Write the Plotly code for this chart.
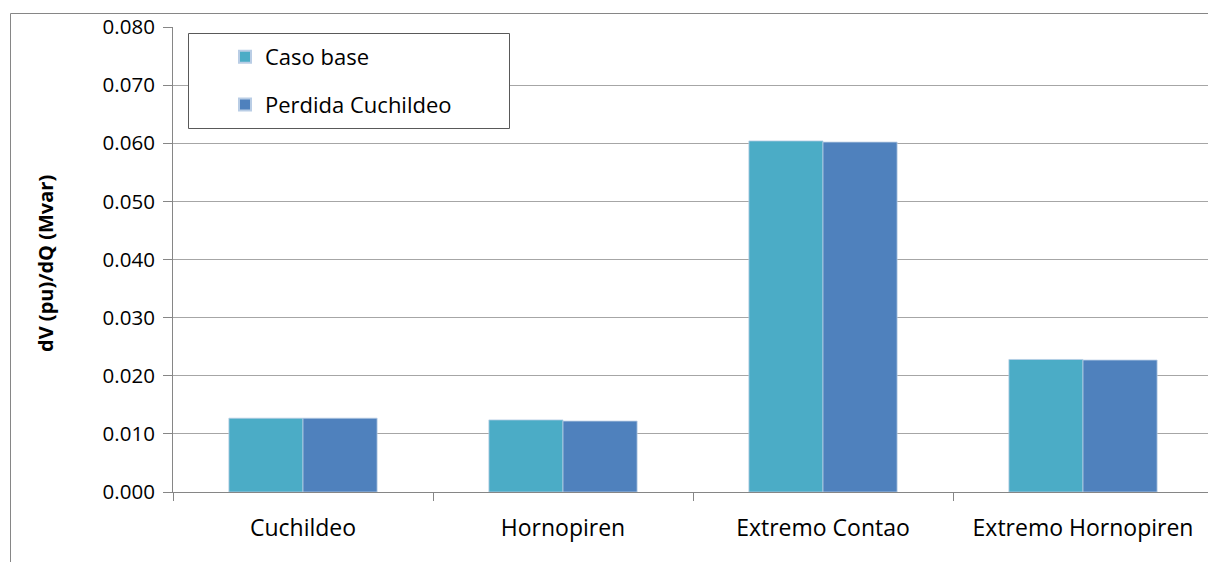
import plotly.graph_objects as go

# Sensitivity dV/dQ per bus, base case vs. loss of Cuchildeo
categories = ["Cuchildeo", "Hornopiren", "Extremo Contao", "Extremo Hornopiren"]
caso_base = [0.0127, 0.0124, 0.0604, 0.0228]
perdida_cuchildeo = [0.0127, 0.0122, 0.0602, 0.0227]
y_ticks = [0.0, 0.01, 0.02, 0.03, 0.04, 0.05, 0.06, 0.07, 0.08]

W, H = 1208, 562
L, R, T, B = 173, 0, 27, 70
pw = W - L - R
ph = H - T - B

FONT = "Open Sans"
AX = "#868686"
GRID = "#A6A6A6"


def px_x(x):
    return (x - L) / pw


def px_y(y):
    return 1 - (y - T) / ph


fig = go.Figure()
fig.add_trace(go.Bar(
    x=categories, y=caso_base, name="Caso base",
    marker=dict(color="#4BACC6", line=dict(color="#B9CDE5", width=0.8)),
    legendgroup="a",
))
fig.add_trace(go.Bar(
    x=categories, y=perdida_cuchildeo, name="Perdida Cuchildeo",
    marker=dict(color="#4F81BD", line=dict(color="#B9CDE5", width=0.8)),
    legendgroup="b",
))

# visible categories span: the last one runs past the right edge
x_hi = -0.5 + pw / 260.0

fig.update_layout(
    width=W, height=H,
    margin=dict(l=L, r=R, t=T, b=B, pad=0),
    paper_bgcolor="white", plot_bgcolor="white",
    font=dict(family=FONT, size=20, color="#000000"),
    barmode="group", bargap=0.43, bargroupgap=0,
    showlegend=True,
    legend=dict(
        x=px_x(225), y=px_y(36), xanchor="left", yanchor="top",
        bgcolor="rgba(0,0,0,0)", borderwidth=0,
        font=dict(family=FONT, size=22, color="#000000"),
        tracegroupgap=16, itemsizing="constant",
    ),
    xaxis=dict(
        range=[-0.5, x_hi], showgrid=False,
        showline=True, linecolor=AX, linewidth=1,
        ticks="outside", tickson="boundaries", ticklen=8, tickcolor=AX,
        tickfont=dict(family=FONT, size=23, color="#000000"),
        ticklabelstandoff=15,
    ),
    yaxis=dict(
        range=[0, 0.08], tickvals=y_ticks, tickformat=".3f",
        showgrid=True, gridcolor=GRID, gridwidth=1,
        showline=True, linecolor=AX, linewidth=1,
        ticks="outside", ticklen=9, tickcolor=AX,
        tickfont=dict(family=FONT, size=20.5, color="#000000"),
        ticklabelstandoff=4,
        zeroline=False,
    ),
    annotations=[dict(
        text="<b>dV (pu)/dQ (Mvar)</b>", textangle=-90,
        x=px_x(45), y=px_y(264), xref="paper", yref="paper",
        xanchor="center", yanchor="middle", showarrow=False,
        font=dict(family=FONT, size=20, color="#000000"),
    )],
    shapes=[
        # chart area frame
        dict(type="rect", xref="paper", yref="paper",
             x0=px_x(10.5), x1=1.05, y0=-0.3, y1=px_y(13.5),
             line=dict(color=AX, width=1), fillcolor="rgba(0,0,0,0)",
             layer="below"),
        # legend box
        dict(type="rect", xref="paper", yref="paper",
             x0=px_x(188.5), x1=px_x(509.5), y0=px_y(128.5), y1=px_y(33.5),
             line=dict(color="#595959", width=1), fillcolor="white",
             layer="above"),
    ],
)

fig.write_html("out.html")
